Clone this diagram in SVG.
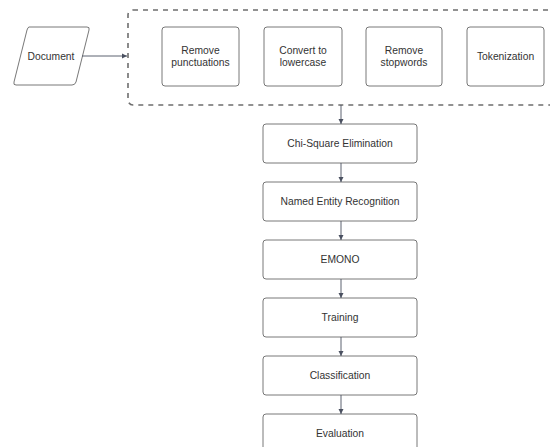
<svg xmlns="http://www.w3.org/2000/svg" width="550" height="447" viewBox="0 0 550 447">
<style>
.box{fill:#fff;stroke:#555;stroke-width:0.8}
.t{font-family:"Liberation Sans",Arial,sans-serif;font-size:10.3px;fill:#333;text-anchor:middle;dominant-baseline:central}
.c{stroke:#4a5060;stroke-width:0.9;fill:none;marker-end:url(#ah)}
</style>
<defs>
<marker id="ah" markerWidth="6" markerHeight="6" refX="5" refY="3" orient="auto" markerUnits="userSpaceOnUse">
<path d="M0,0.5 L5,3 L0,5.5 Z" fill="#4a5060"/>
</marker>
</defs>
<rect x="0" y="0" width="550" height="447" fill="#fff"/>
<g id="group">
<rect x="128" y="10" width="440" height="95" rx="5" fill="none" stroke="#6e6e6e" stroke-width="1.6" stroke-dasharray="5,5"/>
</g>
<g id="document">
<path d="M29,27 L87,27 Q90,27 89,30 L76,82 Q75,85 72,85 L16,85 Q13,85 14,82 L27,30 Q28,27 29,27 Z" class="box"/>
<text class="t" x="51" y="56">Document</text>
</g>
<g id="n1"><rect class="box" x="162" y="27" width="77" height="59" rx="3"/><text class="t" x="200.5" y="50">Remove</text><text class="t" x="200.5" y="62">punctuations</text></g>
<g id="n2"><rect class="box" x="264" y="27" width="78" height="59" rx="3"/><text class="t" x="303" y="50">Convert to</text><text class="t" x="303" y="62">lowercase</text></g>
<g id="n3"><rect class="box" x="366" y="27" width="76" height="59" rx="3"/><text class="t" x="404" y="50">Remove</text><text class="t" x="404" y="62">stopwords</text></g>
<g id="n4"><rect class="box" x="467" y="27" width="77" height="59" rx="3"/><text class="t" x="505.5" y="56">Tokenization</text></g>
<g id="s1"><rect class="box" x="263" y="124" width="154" height="39" rx="3"/><text class="t" x="340" y="143.5">Chi-Square Elimination</text></g>
<g id="s2"><rect class="box" x="263" y="182" width="154" height="39" rx="3"/><text class="t" x="340" y="201.5">Named Entity Recognition</text></g>
<g id="s3"><rect class="box" x="263" y="240" width="154" height="39" rx="3"/><text class="t" x="340" y="259.5">EMONO</text></g>
<g id="s4"><rect class="box" x="263" y="298" width="154" height="39" rx="3"/><text class="t" x="340" y="317.5">Training</text></g>
<g id="s5"><rect class="box" x="263" y="356" width="154" height="39" rx="3"/><text class="t" x="340" y="375.5">Classification</text></g>
<g id="s6"><rect class="box" x="263" y="414" width="154" height="39" rx="3"/><text class="t" x="340" y="433">Evaluation</text></g>
<g id="connectors">
<line class="c" x1="82" y1="56" x2="127" y2="56"/>
<line class="c" x1="341" y1="105" x2="341" y2="124"/>
<line class="c" x1="341" y1="163" x2="341" y2="182"/>
<line class="c" x1="341" y1="221" x2="341" y2="240"/>
<line class="c" x1="341" y1="279" x2="341" y2="298"/>
<line class="c" x1="341" y1="337" x2="341" y2="356"/>
<line class="c" x1="341" y1="395" x2="341" y2="414"/>
</g>
</svg>
